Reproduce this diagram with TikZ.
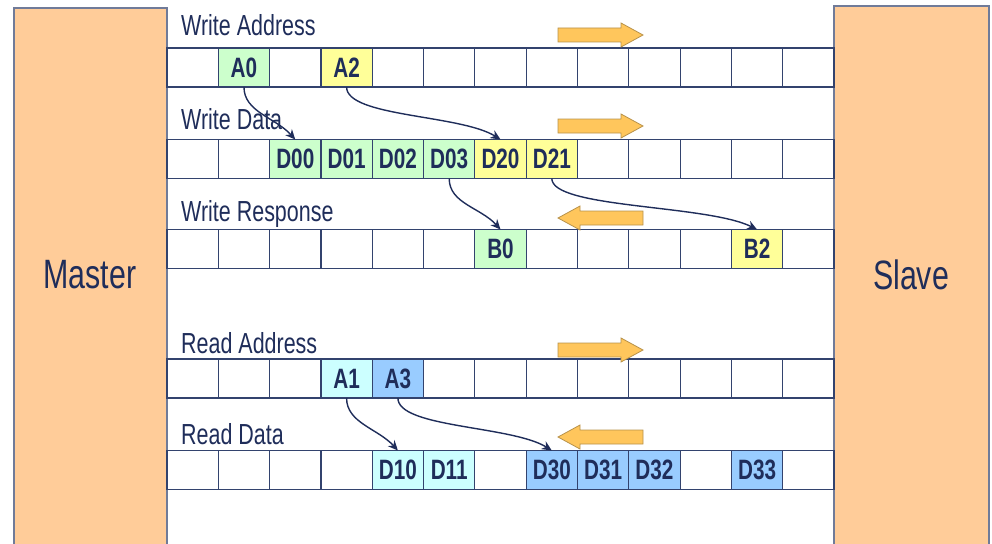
\documentclass[tikz,border=0pt]{standalone}
\usepackage{fontspec}
\setmainfont{Liberation Sans}[FakeStretch=0.74]
\usetikzlibrary{arrows.meta,positioning}

\definecolor{bleunuit}{HTML}{1F2D5A}
\definecolor{trait}{HTML}{33436E}
\definecolor{peche}{HTML}{FFCC99}
\definecolor{vertpale}{HTML}{CCFFCC}
\definecolor{jaunepale}{HTML}{FFFF99}
\definecolor{cyanpale}{HTML}{CCFFFF}
\definecolor{bleuclair}{HTML}{99CCFF}
\definecolor{orangef}{HTML}{FFC65C}
\definecolor{bordf}{HTML}{B8924A}

\begin{document}
\begin{tikzpicture}[x=1pt,y=-1pt]
%styles : blocs maitre/esclave, cases des canaux, fleches
\tikzset{bloc/.style={fill=peche,draw=trait!70,line width=1.2pt},
case/.style={draw=trait,line width=1.2pt,minimum width=51.31pt,minimum height=39pt,inner sep=0pt,outer sep=0pt,text=bleunuit,font=\fontsize{28}{30}\selectfont\bfseries},
canal/.style={anchor=base west,text=bleunuit,inner sep=0pt,font=\fontsize{29}{32}\selectfont},
lien/.style={draw=bleunuit,line width=1.4pt,-{Stealth[length=10pt,width=9pt]}},
fleche/.pic={\filldraw[fill=orangef,draw=bordf,line width=0.8pt] (0,-7) -- (63,-7) -- (63,-12) -- (85,0) -- (63,12) -- (63,7) -- (0,7) -- cycle;}}
\useasboundingbox (0,0) rectangle (992,543);

\filldraw[bloc] (14,8) rectangle (167,548);
\filldraw[bloc] (834,6) rectangle (989,548);
\node[text=bleunuit,font=\fontsize{41}{44}\selectfont] (master) at (90,275) {Master};
\node[text=bleunuit,font=\fontsize{41}{44}\selectfont] (slave) at (911,275) {Slave};

%les cinq canaux
\foreach \nom/\y in {wa/67.5,wd/159,wr/249,ra/378.5,rd/470}
  \foreach \i in {1,...,13}
    \node[case] (\nom-\i) at ({167+(\i-0.5)*51.31},\y) {};

\node[canal] (lwa) at (181,36) {Write Address};
\node[canal] (lwd) at (181,129) {Write Data};
\node[canal] (lwr) at (181,221) {Write Response};
\node[canal] (lra) at (181,353) {Read Address};
\node[canal] (lrd) at (181,444) {Read Data};

%transactions
\node[case,fill=vertpale] (A0) at (wa-2) {A0};
\node[case,fill=jaunepale] (A2) at (wa-4) {A2};
\node[case,fill=vertpale] (D00) at (wd-3) {D00};
\node[case,fill=vertpale] (D01) at (wd-4) {D01};
\node[case,fill=vertpale] (D02) at (wd-5) {D02};
\node[case,fill=vertpale] (D03) at (wd-6) {D03};
\node[case,fill=jaunepale] (D20) at (wd-7) {D20};
\node[case,fill=jaunepale] (D21) at (wd-8) {D21};
\node[case,fill=vertpale] (B0) at (wr-7) {B0};
\node[case,fill=jaunepale] (B2) at (wr-12) {B2};
\node[case,fill=cyanpale] (A1) at (ra-4) {A1};
\node[case,fill=bleuclair] (A3) at (ra-5) {A3};
\node[case,fill=cyanpale] (D10) at (rd-5) {D10};
\node[case,fill=cyanpale] (D11) at (rd-6) {D11};
\node[case,fill=bleuclair] (D30) at (rd-8) {D30};
\node[case,fill=bleuclair] (D31) at (rd-9) {D31};
\node[case,fill=bleuclair] (D32) at (rd-10) {D32};
\node[case,fill=bleuclair] (D33) at (rd-12) {D33};

\draw[lien] (A0.south) .. controls +(0,25) and +(-20,-22) .. (D00.north);
\draw[lien] (A2.south) .. controls +(0,30) and +(-40,-25) .. (D20.north);
\draw[lien] (D03.south) .. controls +(0,25) and +(-20,-22) .. (B0.north);
\draw[lien] (D21.south) .. controls +(0,30) and +(-50,-25) .. (B2.north);
\draw[lien] (A1.south) .. controls +(0,25) and +(-20,-22) .. (D10.north);
\draw[lien] (A3.south) .. controls +(0,30) and +(-40,-25) .. (D30.north);

%sens des canaux
\pic at (558,35) {fleche};
\pic at (558,126) {fleche};
\pic[xscale=-1] at (643,218) {fleche};
\pic at (558,350) {fleche};
\pic[xscale=-1] at (643,437) {fleche};
\end{tikzpicture}
\end{document}
